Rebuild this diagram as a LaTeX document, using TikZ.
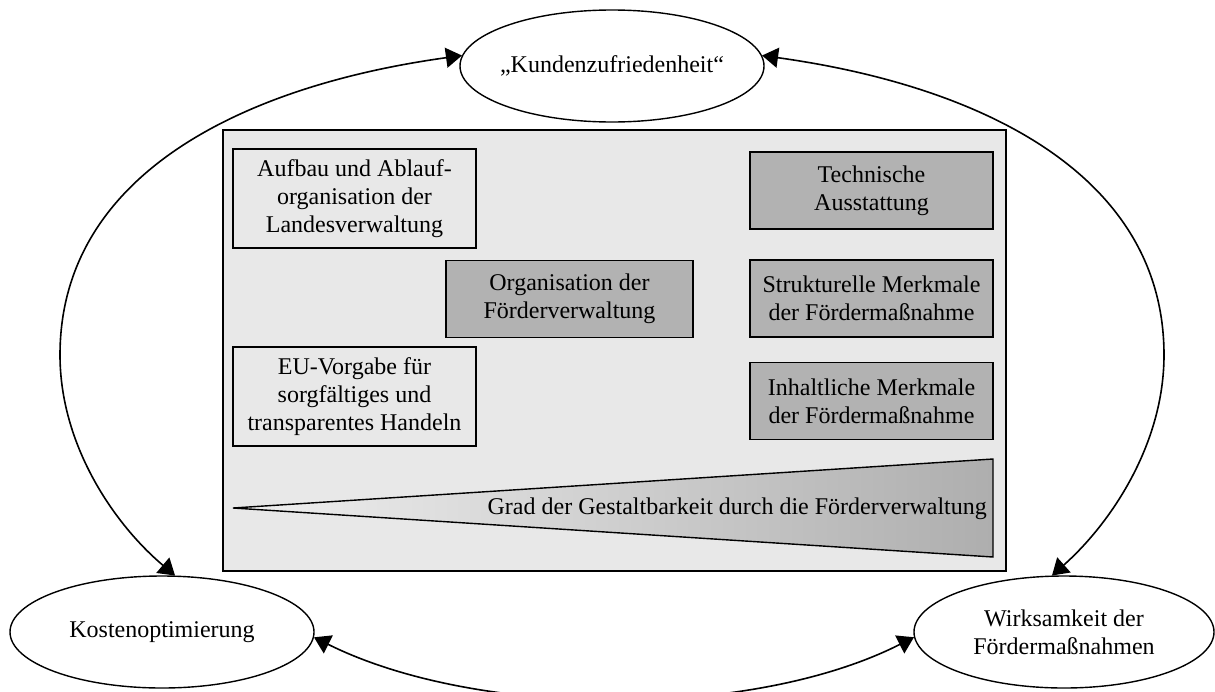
\documentclass[tikz,border=0pt]{standalone}
\usepackage{fontspec}
\setmainfont{Liberation Serif}
\usetikzlibrary{shapes.geometric,arrows.meta}
\definecolor{mainfill}{HTML}{E8E8E8}
\definecolor{boxdark}{HTML}{B2B2B2}
\definecolor{gradleft}{HTML}{F0F0F0}
\definecolor{gradright}{HTML}{AEAEAE}
\begin{document}
\begin{tikzpicture}[x=1pt,y=-1pt,
  every node/.style={font=\fontsize{24}{28}\selectfont, align=center},
  oval/.style={draw, ellipse, line width=1.4pt, minimum width=304pt, minimum height=112pt, inner sep=0pt, fill=white},
  lightbox/.style={draw, line width=1.4pt, fill=mainfill, inner sep=0pt, minimum width=243pt, minimum height=99pt},
  darkbox/.style={draw, line width=1.4pt, fill=boxdark, inner sep=0pt, minimum width=243pt, minimum height=77pt},
  link/.style={line width=1.6pt, {Triangle[length=16pt,width=20pt]}-{Triangle[length=16pt,width=20pt]}},
]
\useasboundingbox (0,0) rectangle (1215,691);

% panel
\node[draw, fill=mainfill, line width=1.4pt, minimum width=783pt, minimum height=441pt, inner sep=0pt] (panel) at (614.5,350.5) {};

% boxes
\node[lightbox] (aufbau) at (354.5,198.5) {Aufbau und Ablauf-\\organisation der\\Landesverwaltung};
\node[lightbox] (eu) at (354.5,396.5) {EU-Vorgabe für\\sorgfältiges und\\transparentes Handeln};
\node[darkbox, minimum width=247pt] (org) at (569.5,299) {Organisation der\\Förderverwaltung};
\node[darkbox] (tech) at (871.5,190.5) {Technische\\Ausstattung};
\node[darkbox] (struk) at (871.5,298.5) {Strukturelle Merkmale\\der Fördermaßnahme};
\node[darkbox] (inhalt) at (871.5,401) {Inhaltliche Merkmale\\der Fördermaßnahme};

% wedge
\coordinate (wtip) at (233,508);
\coordinate (wtop) at (993,459);
\coordinate (wbot) at (993,557);
\shadedraw[left color=gradleft, right color=gradright, line width=1.4pt] (wtip) -- (wtop) -- (wbot) -- cycle;
\node[anchor=east, inner sep=0pt] (grad) at (987,509) {Grad der Gestaltbarkeit durch die Förderverwaltung};

% ellipses
\node[oval, label=center:{„Kundenzufriedenheit“}] (kz) at (612,66) {};
\node[oval, label=center:{Kostenoptimierung}] (ko) at (162,632) {};
\node[oval, minimum width=300pt, label=center:{Wirksamkeit der\\Fördermaßnahmen}] (wi) at (1064,632) {};

% connectors
\draw[link] (kz.176) .. controls (242,86) and (60,175) .. (60,355)
  .. controls (60,445) and (114,524) .. (ko.77);
\draw[link] (kz.4) .. controls (982,86) and (1164,175) .. (1164,355)
  .. controls (1164,445) and (1110,524) .. (wi.102);
\draw[link] (ko.-2) .. controls (478,719) and (753,719) .. (wi.182);
\end{tikzpicture}
\end{document}
